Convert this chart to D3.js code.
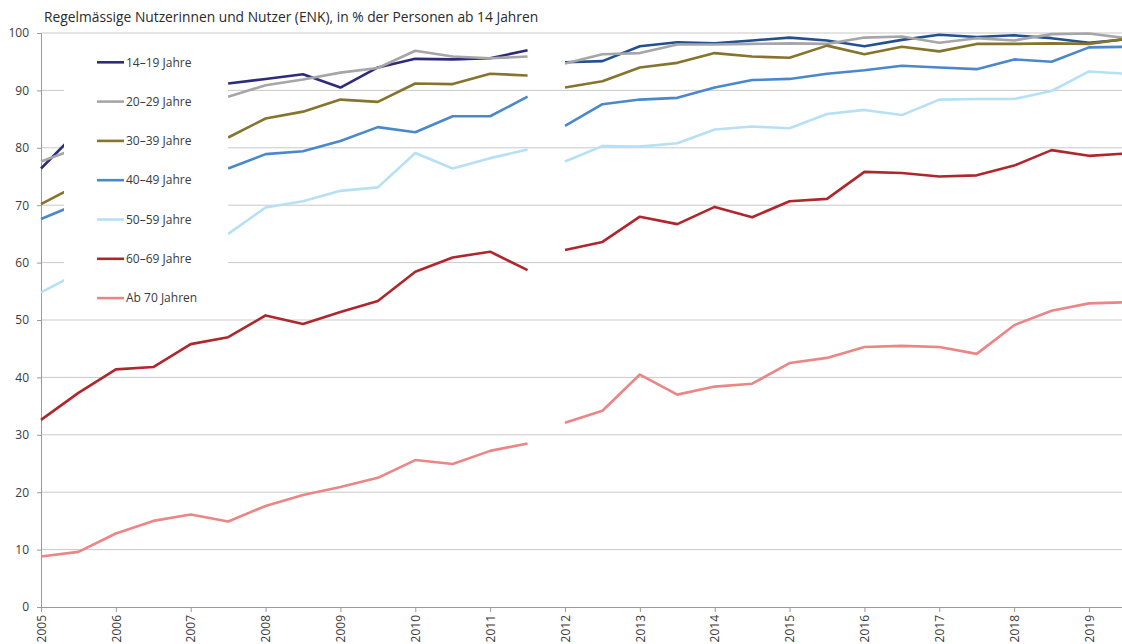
<!DOCTYPE html>
<html>
<head>
<meta charset="utf-8">
<script src="https://cdn.jsdelivr.net/npm/d3@7"></script>
<style>
html, body { margin: 0; padding: 0; background: #fff; }
svg { display: block; font-family: "Open Sans", "Noto Sans", sans-serif; }
</style>
</head>
<body>
<svg id="chart" width="1122" height="644"></svg>
<script>
// ---- Data ----
const title = "Regelmässige Nutzerinnen und Nutzer (ENK), in % der Personen ab 14 Jahren";
const seriesNames = ["14–19 Jahre", "20–29 Jahre", "30–39 Jahre", "40–49 Jahre", "50–59 Jahre", "60–69 Jahre", "Ab 70 Jahren"];
const colorsPeriod1 = ["#2d2b7c", "#a6a6a8", "#86732c", "#4a88cc", "#b5e0f5", "#b0262d", "#ec8585"];
const colorsPeriod2 = ["#23508f", "#a6a6a8", "#86732c", "#4a88cc", "#b5e0f5", "#b0262d", "#ec8585"];
const yearTicks = [2005, 2006, 2007, 2008, 2009, 2010, 2011, 2012, 2013, 2014, 2015, 2016, 2017, 2018, 2019];
const yTicks = [0, 10, 20, 30, 40, 50, 60, 70, 80, 90, 100];

const periods1 = [2005, 2005.5, 2006, 2006.5, 2007, 2007.5, 2008, 2008.5, 2009, 2009.5, 2010, 2010.5, 2011, 2011.5];
const periods2 = [2012, 2012.5, 2013, 2013.5, 2014, 2014.5, 2015, 2015.5, 2016, 2016.5, 2017, 2017.5, 2018, 2018.5, 2019, 2019.5];

// values hidden behind the legend are left as null
const age14_19_p1 = [76.4, 83.0, null, null, null, 91.2, 92.0, 92.8, 90.5, 94.0, 95.5, 95.4, 95.6, 97.0];
const age20_29_p1 = [77.6, 80.0, null, null, null, 88.9, 90.9, 91.9, 93.1, 93.9, 96.9, 95.9, 95.6, 95.9];
const age30_39_p1 = [70.2, 73.6, null, null, null, 81.8, 85.1, 86.3, 88.4, 88.0, 91.2, 91.1, 92.9, 92.6];
const age40_49_p1 = [67.6, 70.3, null, null, null, 76.4, 78.9, 79.4, 81.2, 83.6, 82.7, 85.5, 85.5, 88.9];
const age50_59_p1 = [54.8, 58.2, null, null, null, 65.0, 69.6, 70.7, 72.5, 73.1, 79.1, 76.4, 78.2, 79.7];
const age60_69_p1 = [32.6, 37.3, 41.4, 41.8, 45.8, 47.0, 50.8, 49.3, 51.4, 53.3, 58.4, 60.9, 61.9, 58.7];
const age70_p1    = [8.8, 9.6, 12.8, 15.0, 16.1, 14.9, 17.6, 19.5, 20.9, 22.5, 25.6, 24.9, 27.2, 28.5];

const age14_19_p2 = [94.9, 95.1, 97.7, 98.4, 98.2, 98.7, 99.2, 98.7, 97.7, 98.8, 99.7, 99.3, 99.6, 99.1, 98.3, 98.9];
const age20_29_p2 = [94.7, 96.3, 96.5, 98.0, 98.0, 98.1, 98.2, 98.1, 99.2, 99.4, 98.3, 99.1, 98.7, 99.8, 99.9, 99.1];
const age30_39_p2 = [90.5, 91.6, 94.0, 94.8, 96.5, 95.9, 95.7, 97.8, 96.3, 97.6, 96.8, 98.1, 98.1, 98.2, 98.1, 99.0];
const age40_49_p2 = [83.8, 87.6, 88.4, 88.7, 90.5, 91.8, 92.0, 92.9, 93.5, 94.3, 94.0, 93.7, 95.4, 95.0, 97.5, 97.6];
const age50_59_p2 = [77.6, 80.3, 80.2, 80.8, 83.2, 83.7, 83.4, 85.9, 86.6, 85.7, 88.4, 88.5, 88.5, 89.9, 93.3, 92.9];
const age60_69_p2 = [62.2, 63.6, 68.0, 66.7, 69.7, 67.9, 70.7, 71.1, 75.8, 75.6, 75.0, 75.2, 76.9, 79.6, 78.6, 79.0];
const age70_p2    = [32.1, 34.2, 40.5, 37.0, 38.4, 38.9, 42.5, 43.4, 45.3, 45.5, 45.3, 44.1, 49.1, 51.6, 52.9, 53.1];

const valuesP1 = [age14_19_p1, age20_29_p1, age30_39_p1, age40_49_p1, age50_59_p1, age60_69_p1, age70_p1];
const valuesP2 = [age14_19_p2, age20_29_p2, age30_39_p2, age40_49_p2, age50_59_p2, age60_69_p2, age70_p2];

// ---- Chart ----
const svg = d3.select("#chart");
const x = d3.scaleLinear().domain([2005, 2019]).range([41, 1089]);
const y = d3.scaleLinear().domain([0, 100]).range([607, 33]);
const textColor = "#3a3a3a";

// title
svg.append("text")
  .attr("x", 44).attr("y", 22)
  .attr("font-size", 13.8).attr("fill", "#2a2a2a")
  .text(title);

// gridlines
svg.append("g").selectAll("line")
  .data(yTicks.filter(d => d > 0))
  .join("line")
  .attr("x1", x(2005)).attr("x2", 1122)
  .attr("y1", d => y(d)).attr("y2", d => y(d))
  .attr("stroke", "#c9c9c9").attr("stroke-width", 1);

// y axis
const yAxis = svg.append("g")
  .attr("transform", `translate(${x(2005)},0)`)
  .call(d3.axisLeft(y).tickValues(yTicks).tickSize(4).tickPadding(8));
yAxis.select(".domain").attr("stroke", "#9a9a9a");
yAxis.selectAll(".tick line").attr("stroke", "#9a9a9a");
yAxis.selectAll(".tick text").attr("font-size", 12).attr("fill", textColor)
  .attr("font-family", "'Open Sans', sans-serif");

// x axis
const xAxis = svg.append("g")
  .attr("transform", `translate(0,${y(0)})`)
  .call(d3.axisBottom(x).tickValues(yearTicks).tickFormat(d3.format("d")).tickSize(5).tickSizeOuter(0));
xAxis.select(".domain").attr("stroke", "#9a9a9a").attr("d", `M${x(2005)},0.5H1122`);
xAxis.selectAll(".tick line").attr("stroke", "#9a9a9a");
xAxis.selectAll(".tick text")
  .attr("font-size", 12).attr("fill", textColor)
  .attr("font-family", "'Open Sans', sans-serif")
  .attr("text-anchor", "end")
  .attr("transform", "rotate(-90)")
  .attr("x", -8).attr("y", 0).attr("dy", "0.35em");

// lines
const line = d3.line()
  .defined(d => d.v !== null)
  .x(d => x(d.t)).y(d => y(d.v));

const linesG = svg.append("g").attr("fill", "none").attr("stroke-width", 2.6)
  .attr("stroke-linejoin", "round");
seriesNames.forEach((name, i) => {
  linesG.append("path")
    .datum(periods1.map((t, j) => ({ t, v: valuesP1[i][j] })))
    .attr("stroke", colorsPeriod1[i])
    .attr("d", line);
  linesG.append("path")
    .datum(periods2.map((t, j) => ({ t, v: valuesP2[i][j] })))
    .attr("stroke", colorsPeriod2[i])
    .attr("d", line);
});

// legend (white box covering lines)
svg.append("rect")
  .attr("x", 64).attr("y", 36).attr("width", 164).attr("height", 275)
  .attr("fill", "#fff");
const legend = svg.append("g");
seriesNames.forEach((name, i) => {
  const ly = 62.3 + i * 39.3;
  legend.append("line")
    .attr("x1", 97).attr("x2", 124).attr("y1", ly).attr("y2", ly)
    .attr("stroke", colorsPeriod1[i]).attr("stroke-width", 2.6);
  legend.append("text")
    .attr("x", 126).attr("y", ly).attr("dy", "0.35em")
    .attr("font-size", 12).attr("fill", textColor)
    .text(name);
});
</script>
</body>
</html>
